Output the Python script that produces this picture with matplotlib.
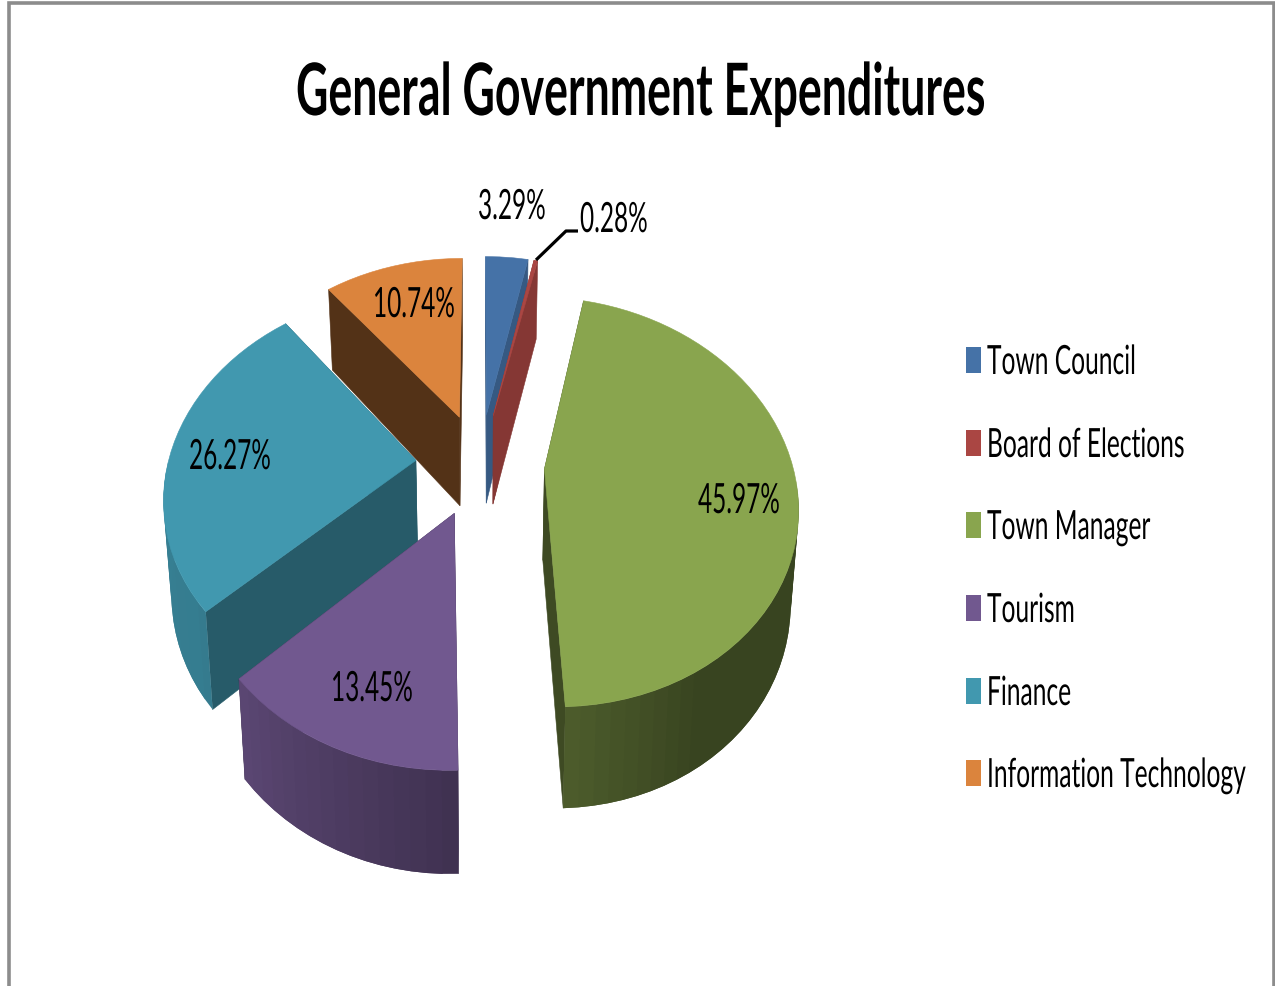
import numpy as np
import matplotlib
matplotlib.use("Agg")
import matplotlib.pyplot as plt
import matplotlib.patheffects as pe
from matplotlib.patches import Rectangle
from matplotlib.text import Text
from matplotlib.transforms import Affine2D, Bbox

departments = ["Town Council", "Board of Elections", "Town Manager", "Tourism", "Finance", "Information Technology"]
shares = [3.29, 0.28, 45.97, 13.45, 26.27, 10.74]
colors = ["#4572A7", "#AA4643", "#89A54E", "#71588F", "#4198AF", "#DB843D"]
title = "General Government Expenditures"

# camera and pie shape, in pixels
CX, CY = 480, 465
RX, RY = 248, 198
PERSP = 0.16
EXPLODE = 0.26
DEPTH = 91
SHRINK = 0.025

# back to front
draw_order = [5, 0, 1, 4, 2, 3]
# how dark the straight cut faces are
cut_shade = [0.78, 0.78, 0.45, 0.55, 0.6, 0.38]
# text anchors: left edge, baseline
label_pos = [(478, 220), (580, 233), (698, 514), (331, 702), (189, 470), (373, 318)]
legend_rows = [361, 444, 526, 609, 692, 774]


class Squeeze(pe.AbstractPathEffect):
    # narrows the glyphs around the text origin
    def __init__(self, sx):
        super().__init__()
        self.sx = sx

    def draw_path(self, renderer, gc, tpath, affine, rgbFace=None):
        renderer.draw_path(gc, tpath, Affine2D().scale(self.sx, 1) + affine, rgbFace)


class NarrowText(Text):
    # left aligned text that reports the width it is drawn at
    def __init__(self, x, y, s, sx, **kw):
        super().__init__(x, y, s, ha="left", va="baseline", path_effects=[Squeeze(sx)], **kw)
        self.sx = sx

    def get_window_extent(self, renderer=None, dpi=None):
        bb = super().get_window_extent(renderer, dpi)
        return Bbox.from_extents(bb.x0, bb.y0, bb.x0 + bb.width * self.sx, bb.y1)


def project(x, y, z):
    w = 1 + PERSP * y
    px = CX + RX * x / w * (1 - SHRINK * z)
    py = CY - RY * y / w + DEPTH * z * (1 + 0.7 * (1 - w))
    return px, py


def wall_shade(theta):
    return np.interp(theta, [100, 150, 180, 230, 360], [0.41, 0.41, 0.57, 0.82, 0.88])


def dark(color, f):
    return tuple(c * f for c in matplotlib.colors.to_rgb(color))


def poly(ax, xs, ys, color, lw=0.4):
    ax.fill(xs, ys, facecolor=color, edgecolor=color if lw else "none", linewidth=lw)


def draw_slice(ax, start, stop, color, cut):
    mid = np.radians((start + stop) / 2)
    ox, oy = EXPLODE * np.sin(mid), EXPLODE * np.cos(mid)
    ts = np.linspace(start, stop, max(int((stop - start) / 3), 2) + 1)
    ax_x = ox + np.sin(np.radians(ts))
    ax_y = oy + np.cos(np.radians(ts))

    # straight cut faces
    for i in (0, -1):
        xa, ya = project(ox, oy, 0)
        xb, yb = project(ax_x[i], ax_y[i], 0)
        xc, yc = project(ax_x[i], ax_y[i], 1)
        xd, yd = project(ox, oy, 1)
        poly(ax, [xa, xb, xc, xd], [ya, yb, yc, yd], dark(color, cut))

    # rounded outer face, each band runs under the next so no seams show
    for i in range(len(ts) - 1):
        if np.cos(np.radians(ts[i])) > -0.08 and np.cos(np.radians(ts[i + 1])) > -0.08:
            continue
        x1, y1 = project(ax_x[i:i + 3], ax_y[i:i + 3], 0)
        x2, y2 = project(ax_x[i:i + 3], ax_y[i:i + 3], 1)
        c = dark(color, wall_shade((ts[i] + ts[i + 1]) / 2))
        poly(ax, np.r_[x1, x2[::-1]], np.r_[y1, y2[::-1]], c, lw=0)

    # top
    x, y = project(np.r_[ox, ax_x], np.r_[oy, ax_y], 0)
    poly(ax, x, y, color)


def put_text(ax, x, y, s, size, sx, weight="normal"):
    ax.add_artist(NarrowText(x, y, s, sx, fontsize=size, family="Lato", weight=weight, color="black"))


fig = plt.figure(figsize=(12.75, 9.87), dpi=100)
ax = fig.add_axes([0, 0, 1, 1])
ax.set_xlim(0, 1275)
ax.set_ylim(987, 0)
ax.axis("off")

# sheet border
ax.add_patch(Rectangle((9, 3.5), 1264.5, 990, facecolor="white", edgecolor="#8c8c8c", linewidth=2.6))

edges = np.cumsum([0] + shares) / sum(shares) * 360
for i in draw_order:
    draw_slice(ax, edges[i], edges[i + 1], colors[i], cut_shade[i])

# leader line for the small slice
ax.plot([536, 566, 578], [261, 232, 232], color="black", lw=2.3, solid_capstyle="butt", zorder=5)

for v, (x, y) in zip(shares, label_pos):
    put_text(ax, x, y, f"{v:.2f}%", 30, 0.585)

for name, c, yc in zip(departments, colors, legend_rows):
    ax.add_patch(Rectangle((966, yc - 13), 15, 26, facecolor=c, edgecolor="none"))
    put_text(ax, 987, yc + 14, name, 29, 0.61)

put_text(ax, 296, 116, title, 52, 0.618, weight="bold")

fig.savefig("out.png", dpi=100)
